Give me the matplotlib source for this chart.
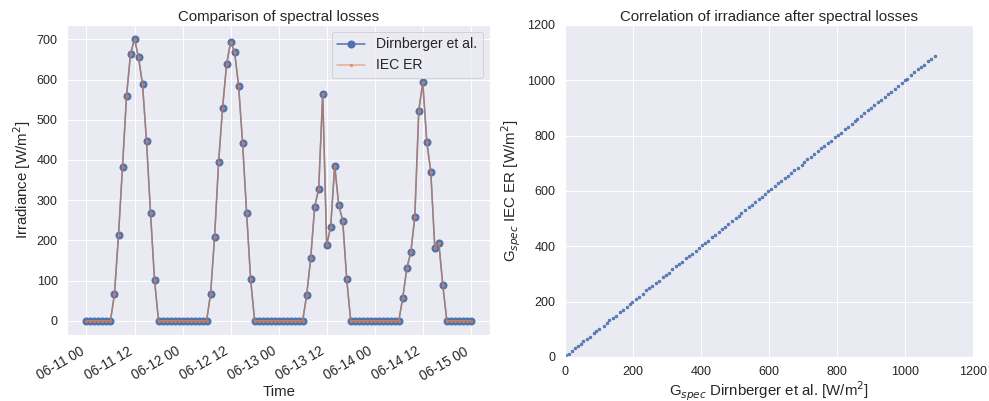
import numpy as np
import pandas as pd
import matplotlib
matplotlib.use('Agg')
import matplotlib.pyplot as plt
import matplotlib.dates as mdates
import seaborn as sns

# hourly irradiance, 06-11 00 .. 06-15 00
time = pd.date_range('2019-06-11 00:00', periods=97, freq='h')

day1 = [67, 213, 383, 558, 664, 701, 655, 588, 446, 268, 101]
day2 = [67, 209, 394, 530, 638, 694, 668, 584, 441, 268, 103]
day3 = [64, 155, 284, 328, 564, 188, 234, 386, 288, 249, 103]
day4 = [57, 130, 170, 257, 523, 593, 445, 371, 181, 194, 89]

night_first = [0] * 7
night = [0] * 13
night_last = [0] * 7

dirnberger = night_first + day1 + night + day2 + night + day3 + night + day4 + night_last
iec_er = night_first + day1 + night + day2 + night + day3 + night + day4 + night_last

# correlation of G_spec values
gspec_dirn = [5, 12, 21, 30, 38, 47, 55, 66, 74, 85, 93, 102, 114, 123, 131, 142, 150,
              161, 170, 182, 191, 199, 210, 218, 229, 240, 248, 257, 268, 276, 288, 297,
              305, 316, 327, 335, 344, 356, 364, 373, 385, 394, 402, 413, 421, 432, 441,
              453, 462, 470, 481, 490, 502, 511, 519, 530, 541, 549, 558, 570, 579, 587,
              598, 607, 618, 627, 636, 647, 655, 666, 675, 684, 696, 704, 713, 724, 733,
              745, 754, 762, 773, 782, 794, 803, 811, 822, 831, 843, 852, 860, 871, 880,
              892, 901, 909, 920, 929, 941, 950, 958, 969, 978, 990, 999, 1007, 1018,
              1027, 1039, 1048, 1056, 1067, 1076, 1088]
gspec_iec = [6, 12, 20, 31, 38, 46, 56, 66, 73, 85, 94, 102, 113, 123, 132, 142, 149,
             161, 171, 182, 190, 199, 211, 218, 228, 240, 249, 257, 267, 276, 289, 297,
             304, 316, 328, 335, 343, 356, 365, 373, 384, 394, 403, 413, 420, 432, 442,
             453, 461, 470, 482, 490, 501, 511, 520, 530, 540, 549, 559, 570, 578, 587,
             599, 607, 617, 627, 637, 647, 654, 666, 676, 684, 695, 704, 714, 724, 732,
             745, 755, 762, 772, 782, 795, 803, 810, 822, 832, 843, 851, 860, 872, 880,
             891, 901, 910, 920, 928, 941, 951, 958, 968, 978, 991, 999, 1006, 1018,
             1028, 1039, 1047, 1056, 1068, 1076, 1089]

sns.set_theme(style='darkgrid')
plt.rcParams['font.family'] = ['Liberation Sans', 'DejaVu Sans']
plt.rcParams['xtick.labelsize'] = 12.5
plt.rcParams['ytick.labelsize'] = 12.5
plt.rcParams['axes.labelsize'] = 15
plt.rcParams['axes.titlesize'] = 15
plt.rcParams['legend.fontsize'] = 14

fig = plt.figure(figsize=(989 / 72, 401 / 72), dpi=72)
ax1 = fig.add_axes([0.068, 0.165, 0.4275, 0.773])
ax2 = fig.add_axes([0.571, 0.11, 0.413, 0.828])

blue, orange = sns.color_palette()[0], sns.color_palette()[1]

ax1.plot(time, dirnberger, marker='o', markersize=7, color=blue, label='Dirnberger et al.')
ax1.plot(time, iec_er, marker='.', markersize=5, color=orange, alpha=0.6, label='IEC ER')
ax1.set_title('Comparison of spectral losses', pad=4)
ax1.set_xlabel('Time', labelpad=2)
ax1.set_ylabel('Irradiance [W/m$^2$]')
ax1.xaxis.set_major_locator(mdates.HourLocator(byhour=[0, 12]))
ax1.xaxis.set_major_formatter(mdates.DateFormatter('%m-%d %H'))
for lab in ax1.get_xticklabels():
    lab.set_rotation(30)
    lab.set_ha('right')
    lab.set_fontsize(13.5)
ax1.legend(loc='upper right')

ax2.plot(gspec_dirn, gspec_iec, '.', markersize=5, color=blue, alpha=0.9)
ax2.set_xlim(0, 1200)
ax2.set_ylim(0, 1200)
ax2.set_title('Correlation of irradiance after spectral losses', pad=4)
ax2.set_xlabel('G$_{spec}$ Dirnberger et al. [W/m$^2$]', labelpad=1)
ax2.set_ylabel('G$_{spec}$ IEC ER [W/m$^2$]')

fig.savefig('out.png', dpi=72)
